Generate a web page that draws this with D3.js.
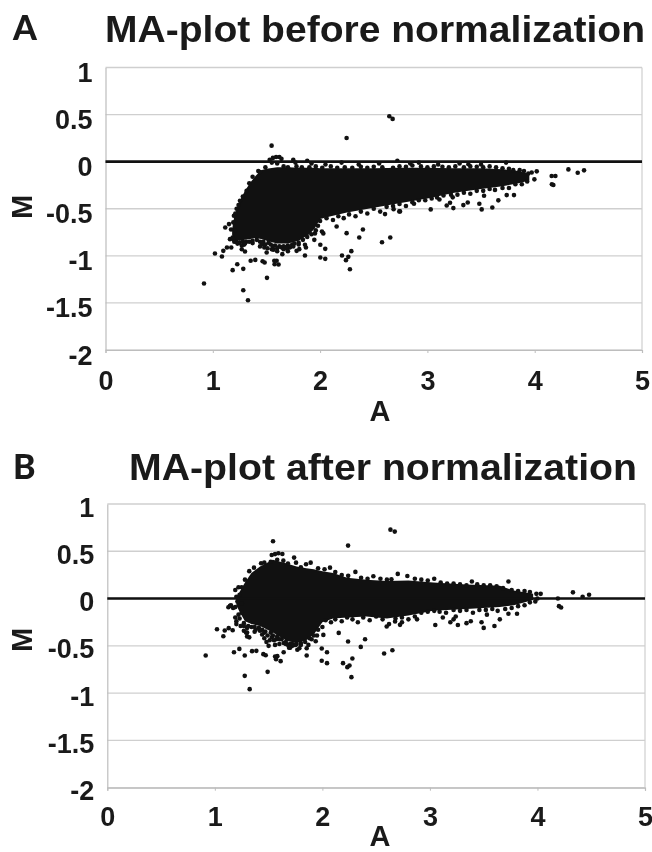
<!DOCTYPE html>
<html>
<head>
<meta charset="utf-8">
<script src="https://cdn.jsdelivr.net/npm/d3@7"></script>
<style>
  html, body { margin: 0; padding: 0; background: #fff; overflow: hidden; }
  svg { display: block; filter: blur(0.35px); }
  text { font-family: "Liberation Sans", Arial, sans-serif; font-weight: bold; fill: #1a1a1a; }
  .letter { font-family: Lato, sans-serif; font-weight: 900; }
</style>
</head>
<body>
<svg id="chart" width="652" height="852"></svg>
<script>
const xTicks = [0, 1, 2, 3, 4, 5];
const yTicks = [1, 0.5, 0, -0.5, -1, -1.5, -2];

// solid middle of each cloud, too many spots to read one by one
const coreBeforeA = [1.18, 1.2, 1.25, 1.3, 1.35, 1.4, 1.45, 1.5, 1.6, 1.7, 1.8, 1.9, 1.95, 2, 2.1, 2.25, 2.5, 2.75, 3, 3.25, 3.5, 3.7, 3.85, 3.95];
const coreBeforeTop = [-0.72, -0.58, -0.42, -0.31, -0.22, -0.15, -0.09, -0.075, -0.06, -0.06, -0.065, -0.065, -0.065, -0.07, -0.07, -0.07, -0.07, -0.065, -0.065, -0.07, -0.07, -0.08, -0.1, -0.13];
const coreBeforeBottom = [-0.78, -0.83, -0.84, -0.83, -0.82, -0.81, -0.82, -0.84, -0.87, -0.87, -0.84, -0.77, -0.71, -0.61, -0.58, -0.54, -0.49, -0.44, -0.39, -0.33, -0.29, -0.26, -0.23, -0.2];

const coreAfterA = [1.2, 1.23, 1.28, 1.34, 1.42, 1.54, 1.67, 1.76, 1.85, 1.92, 2, 2.1, 2.23, 2.41, 2.6, 2.8, 3.03, 3.34, 3.65, 3.78, 3.96];
const coreAfterTop = [0.0, 0.07, 0.17, 0.27, 0.34, 0.41, 0.37, 0.34, 0.32, 0.31, 0.29, 0.27, 0.22, 0.2, 0.185, 0.19, 0.17, 0.15, 0.135, 0.085, 0.05];
const coreAfterBottom = [-0.07, -0.14, -0.24, -0.27, -0.29, -0.36, -0.45, -0.47, -0.44, -0.38, -0.25, -0.21, -0.2, -0.19, -0.21, -0.18, -0.13, -0.11, -0.09, -0.07, -0.015];

const spotsBefore = [
  // far from the cloud
  [1.548,0.17],[2.645,0.482],[2.676,0.454],[2.247,0.252],[0.918,-1.294],[1.284,-1.365],[1.328,-1.472],[1.505,-1.234],
  [1.185,-1.152],[1.228,-1.089],[1.284,-1.138],[1.02,-0.976],[1.085,-1.007],[1.098,-0.947],[1.132,-0.911],[1.172,-0.911],
  [1.353,-1.053],[1.396,-1.043],[1.464,-1.057],[1.483,-1.071],[1.573,-1.053],[1.595,-1.053],[1.576,-1.089],[1.613,-1.092],
  [1.648,-0.982],[1.859,-0.996],[1.781,-0.947],[1.806,-0.929],[1.859,-0.883],[1.868,-0.911],[2.002,-1.018],[2.048,-1.032],
  [2.002,-0.883],[2.048,-0.926],[1.946,-0.83],[2.017,-0.741],[2.03,-0.762],[1.952,-0.762],[2.154,-0.688],[2.247,-0.759],
  [2.204,-0.996],[2.263,-1.011],[2.241,-1.046],[2.278,-1.142],[2.291,-0.95],[2.365,-0.805],[2.399,-0.72],[2.577,-0.855],
  [2.654,-0.805],[2.605,-0.557],[2.685,-0.504],[2.738,-0.528],[1.116,-0.699],[1.151,-0.663],[1.3,-0.954],[1.29,-0.883],
  [1.371,-0.865],[1.461,-0.876],[1.502,-0.965],[1.48,-0.911],[1.564,-0.936],[1.694,-0.926],[1.72,-0.91],
  [4.314,-0.082],[4.401,-0.117],[4.46,-0.092],[4.158,-0.152],[4.193,-0.152],[4.174,-0.248],[4.16,-0.24],[3.997,-0.188],[4.019,-0.103],
  [3.972,-0.115],[3.94,-0.125],[3.807,-0.355],[3.739,-0.355],[3.661,-0.411],[3.605,-0.486],[3.506,-0.507],[3.484,-0.447],
  [3.528,-0.362],[3.376,-0.433],[3.335,-0.461],[3.242,-0.493],[3.031,-0.507],[3.18,-0.465],[3.211,-0.436],[3.236,-0.379],
  [3.112,-0.401],[2.875,-0.447],[2.745,-0.528],[3.733,-0.01],[3.382,-0.028],
  // left edge
  [1.371,-0.16],[1.424,-0.1],[1.44,-0.11],[1.315,-0.31],[1.253,-0.415],[1.222,-0.5],[1.197,-0.574],[1.191,-0.645],[1.28,-0.37],[1.34,-0.23],
  [1.207,-0.734],[1.16,-0.823],[1.185,-0.805],[1.24,-0.46],[1.21,-0.55],[1.17,-0.72],
  // thin part under the core, lower left
  [1.19,-0.82],[1.22,-0.85],[1.25,-0.86],[1.28,-0.85],[1.31,-0.85],[1.37,-0.84],[1.41,-0.83],[1.44,-0.85],[1.47,-0.85],[1.52,-0.86],
  [1.54,-0.88],[1.58,-0.89],[1.62,-0.9],[1.66,-0.9],[1.7,-0.89],[1.74,-0.88],[1.2,-0.85],[1.23,-0.87],[1.27,-0.89],[1.3,-0.87],
  [1.34,-0.85],[1.46,-0.86],[1.49,-0.88],[1.56,-0.9],[1.6,-0.92],[1.64,-0.91],[1.68,-0.91],
  [1.76,-0.87],[1.8,-0.86],[1.84,-0.83],[1.88,-0.8],[1.92,-0.77],[1.96,-0.73],
  [1.27,-0.93],[1.44,-0.9],[1.51,-0.92],[1.55,-0.93],[1.6,-0.95],[1.66,-0.93],[1.7,-0.95],[1.75,-0.9],[1.8,-0.88],[1.98,-0.68],
  // dots on and above the zero line
  [1.53,0.02],[1.56,0.04],[1.59,0.05],[1.62,0.05],[1.64,0.03],[1.55,-0.01],[1.6,-0.02],[1.75,0.02],[1.77,-0.01],[1.88,0.01],[1.92,-0.02],[2.05,-0.03],
  [2.2,-0.01],[2.36,-0.03],[2.55,-0.02],[2.72,0.01],[2.84,-0.02],[2.92,-0.01],[3.1,-0.03],[3.3,-0.02],[3.5,-0.03],
  // top edge
  [1.49,-0.06],[1.66,-0.05],[1.7,-0.06],[1.78,-0.05],[1.83,-0.06],[1.9,-0.06],[1.96,-0.05],[2.02,-0.065],[2.1,-0.05],[2.16,-0.065],[2.23,-0.06],[2.3,-0.065],
  [2.38,-0.055],[2.44,-0.065],[2.5,-0.055],[2.58,-0.06],[2.68,-0.065],[2.74,-0.05],[2.8,-0.055],[2.86,-0.04],[2.94,-0.05],[3,-0.06],[3.06,-0.05],[3.14,-0.055],
  [3.2,-0.06],[3.26,-0.05],[3.34,-0.06],[3.4,-0.05],[3.46,-0.055],[3.52,-0.06],[3.58,-0.05],[3.64,-0.06],[3.7,-0.07],[3.76,-0.075],[3.8,-0.09],[3.86,-0.09],[3.9,-0.1],
  // bottom edge
  [2.0,-0.63],[2.06,-0.6],[2.12,-0.62],[2.17,-0.58],[2.22,-0.6],[2.27,-0.56],[2.33,-0.58],[2.38,-0.53],[2.44,-0.55],[2.5,-0.5],[2.56,-0.53],[2.62,-0.48],
  [2.68,-0.47],[2.74,-0.45],[2.8,-0.47],[2.86,-0.43],[2.92,-0.41],[2.98,-0.41],[3.04,-0.39],[3.09,-0.38],[3.15,-0.36],[3.22,-0.35],[3.28,-0.35],[3.34,-0.33],
  [3.4,-0.34],[3.46,-0.31],[3.52,-0.31],[3.58,-0.29],[3.63,-0.3],[3.7,-0.28],[3.76,-0.28],[3.82,-0.24],[3.88,-0.24],[3.93,-0.21]
];

const spotsAfter = [
  // far from the cloud
  [1.541,0.606],[2.633,0.729],[2.673,0.708],[2.239,0.56],[0.915,-0.602],[1.278,-0.817],[1.324,-0.958],[1.491,-0.775],
  [1.178,-0.567],[1.228,-0.532],[1.278,-0.602],[1.02,-0.324],[1.079,-0.398],[1.092,-0.338],[1.129,-0.313],[1.166,-0.335],
  [1.346,-0.556],[1.386,-0.553],[1.451,-0.588],[1.473,-0.599],[1.56,-0.613],[1.581,-0.609],[1.569,-0.641],[1.612,-0.662],
  [1.64,-0.567],[1.854,-0.602],[1.767,-0.542],[1.786,-0.525],[1.854,-0.525],[1.87,-0.49],[1.994,-0.658],[2.043,-0.683],
  [1.994,-0.528],[2.043,-0.567],[1.938,-0.451],[2.009,-0.384],[1.95,-0.39],[2.152,-0.363],[2.239,-0.454],[2.192,-0.683],
  [2.232,-0.725],[2.252,-0.708],[2.27,-0.831],[2.279,-0.634],[2.357,-0.511],[2.397,-0.43],[2.574,-0.581],[2.651,-0.546],
  [2.598,-0.296],[2.676,-0.243],[2.722,-0.278],[1.126,-0.092],[1.141,-0.077],[1.3,-0.4],[1.29,-0.36],[1.37,-0.35],[1.46,-0.42],
  [1.5,-0.5],[1.48,-0.46],[1.56,-0.49],[1.69,-0.52],[1.72,-0.5],
  [4.33,0.066],[4.42,0.02],[4.48,0.04],[4.19,0.0],[4.2,-0.08],[4.22,-0.095],[3.99,0.05],[4.03,0.05],[4.0,0.0],[3.98,-0.03],
  [3.81,-0.16],[3.73,-0.16],[3.65,-0.22],[3.6,-0.29],[3.5,-0.31],[3.48,-0.25],[3.53,-0.17],[3.38,-0.24],[3.34,-0.26],[3.26,-0.28],
  [3.05,-0.28],[3.19,-0.25],[3.22,-0.22],[3.24,-0.19],[3.12,-0.2],[2.88,-0.22],[2.74,-0.25],[3.73,0.18],[3.39,0.18],
  // top edge
  [1.737,0.433],[1.891,0.38],[1.848,0.363],[1.755,0.38],[2.071,0.327],[2.307,0.282],[2.474,0.236],[2.701,0.261],[2.79,0.239],
  [2.642,0.204],[1.364,0.327],[1.43,0.373],[1.46,0.38],[1.529,0.461],[1.591,0.479],[1.628,0.472],[1.56,0.47],[1.637,0.401],[1.58,0.41],[1.52,0.39],
  [1.32,0.29],[1.28,0.2],[1.68,0.37],[1.8,0.33],[1.96,0.32],[2.02,0.31],[2.12,0.28],[2.18,0.25],[2.24,0.24],[2.36,0.22],[2.42,0.21],[2.54,0.21],[2.6,0.2],
  [2.86,0.21],[2.92,0.2],[2.98,0.19],[3.04,0.21],[3.1,0.17],[3.16,0.16],[3.22,0.16],[3.28,0.15],[3.34,0.14],[3.44,0.15],[3.5,0.14],[3.56,0.14],[3.62,0.13],[3.68,0.11],
  [3.76,0.09],[3.82,0.08],[3.88,0.08],[3.93,0.07],
  // left edge
  [1.19,0.09],[1.22,0.12],[1.25,0.12],[1.2,0.02],[1.23,0.04],[1.21,-0.03],[1.25,-0.05],[1.19,-0.09],[1.17,-0.1],[1.15,-0.07],
  // thin part under the core, lower left
  [1.19,-0.2],[1.22,-0.17],[1.25,-0.15],[1.2,-0.24],[1.23,-0.21],[1.27,-0.26],[1.31,-0.29],[1.37,-0.3],[1.41,-0.31],[1.44,-0.33],[1.47,-0.35],
  [1.52,-0.36],[1.54,-0.39],[1.58,-0.4],[1.62,-0.43],[1.66,-0.46],[1.7,-0.48],[1.74,-0.49],[1.2,-0.27],[1.24,-0.29],[1.27,-0.29],[1.3,-0.31],
  [1.34,-0.3],[1.38,-0.33],[1.42,-0.34],[1.46,-0.36],[1.49,-0.39],[1.53,-0.41],[1.57,-0.43],[1.6,-0.43],[1.64,-0.47],[1.68,-0.49],
  [1.72,-0.48],[1.76,-0.48],[1.8,-0.47],[1.84,-0.46],[1.88,-0.42],[1.92,-0.39],[1.96,-0.33],[1.3,-0.36],[1.32,-0.41],[1.27,-0.34],
  [1.44,-0.38],[1.51,-0.44],[1.55,-0.44],[1.6,-0.48],[1.66,-0.48],[1.7,-0.52],[1.75,-0.49],[1.8,-0.49],[2.0,-0.3],[1.9,-0.43],
  // bottom edge
  [2.03,-0.23],[2.08,-0.25],[2.12,-0.22],[2.18,-0.24],[2.23,-0.2],[2.28,-0.22],[2.33,-0.25],[2.38,-0.2],[2.44,-0.23],[2.5,-0.19],[2.56,-0.22],[2.62,-0.27],
  [2.68,-0.21],[2.74,-0.2],[2.8,-0.22],[2.86,-0.19],[2.92,-0.15],[2.98,-0.14],[3.04,-0.13],[3.09,-0.14],[3.15,-0.15],[3.22,-0.12],[3.28,-0.13],[3.34,-0.12],
  [3.4,-0.15],[3.46,-0.12],[3.52,-0.12],[3.58,-0.11],[3.63,-0.13],[3.7,-0.11],[3.76,-0.1],[3.82,-0.08],[3.88,-0.07],[3.93,-0.04]
];

const svg = d3.select("#chart");

function drawPanel(p) {
    const x = d3.scaleLinear().domain([0, 5]).range([p.left, p.right]);
    const y = d3.scaleLinear().domain([-2, 1]).range([p.bottom, p.top]);

    const g = svg.append("g");

    // gridlines
    g.append("g").selectAll("line")
        .data(yTicks)
        .enter().append("line")
        .attr("x1", x(0)).attr("x2", x(5))
        .attr("y1", d => y(d)).attr("y2", d => y(d))
        .attr("stroke", "#cfcfcf")
        .attr("stroke-width", 1.4);

    g.append("line")
        .attr("x1", x(5)).attr("x2", x(5))
        .attr("y1", y(1)).attr("y2", y(-2))
        .attr("stroke", "#cfcfcf")
        .attr("stroke-width", 1.2);

    // axes
    const xAxis = g.append("g")
        .attr("transform", `translate(0,${y(-2)})`)
        .call(d3.axisBottom(x).tickValues(xTicks).tickFormat(d3.format("d")).tickSize(3).tickPadding(p.xPad));
    const yAxis = g.append("g")
        .attr("transform", `translate(${x(0)},0)`)
        .call(d3.axisLeft(y).tickValues(yTicks).tickFormat(d => d).tickSize(0).tickPadding(13));

    [xAxis, yAxis].forEach(a => {
        a.selectAll("path").attr("stroke", "#bdbdbd").attr("stroke-width", 1.2);
        a.selectAll("line").attr("stroke", "#bdbdbd");
        a.selectAll("text").style("font-size", "27px").attr("fill", "#1a1a1a");
    });
    yAxis.selectAll("text").attr("dy", `${p.yNudge}px`);

    // solid core
    const area = d3.area()
        .x((d, i) => x(p.coreA[i]))
        .y0((d, i) => y(p.coreBottom[i]))
        .y1(d => y(d));
    g.append("path")
        .attr("d", area(p.coreTop))
        .attr("fill", "#111");

    g.append("g").selectAll("circle")
        .data(p.spots)
        .enter().append("circle")
        .attr("cx", d => x(d[0]))
        .attr("cy", d => y(d[1]))
        .attr("r", 2.3)
        .attr("fill", "#111");

    // M = 0
    g.append("line")
        .attr("x1", x(0)).attr("x2", x(5))
        .attr("y1", y(0)).attr("y2", y(0))
        .attr("stroke", "#111")
        .attr("stroke-width", 2.6);

    // texts
    svg.append("text").attr("class", "letter")
        .attr("x", 13).attr("y", p.letterY)
        .style("font-size", "34px")
        .text(p.letter);

    svg.append("text")
        .attr("x", p.titleX).attr("y", p.titleY)
        .attr("textLength", p.titleW)
        .attr("lengthAdjust", "spacingAndGlyphs")
        .style("font-size", "37px")
        .text(p.title);

    svg.append("text")
        .attr("text-anchor", "middle")
        .attr("transform", `translate(32,${p.mY}) rotate(-90)`)
        .style("font-size", "29px")
        .text("M");

    svg.append("text")
        .attr("text-anchor", "middle")
        .attr("x", 380).attr("y", p.aY)
        .style("font-size", "29px")
        .text("A");
}

drawPanel({
    letter: "A", title: "MA-plot before normalization",
    left: 105.5, right: 642, top: 67.5, bottom: 350,
    coreA: coreBeforeA, coreTop: coreBeforeTop, coreBottom: coreBeforeBottom, spots: spotsBefore,
    letterY: 40, titleX: 105, titleY: 42, titleW: 540, mY: 207, aY: 421, xPad: 18, yNudge: 14
});

drawPanel({
    letter: "B", title: "MA-plot after normalization",
    left: 107.3, right: 645, top: 504, bottom: 787.7,
    coreA: coreAfterA, coreTop: coreAfterTop, coreBottom: coreAfterBottom, spots: spotsAfter,
    letterY: 479, titleX: 129, titleY: 480, titleW: 508, mY: 640, aY: 846, xPad: 16, yNudge: 12
});
</script>
</body>
</html>
